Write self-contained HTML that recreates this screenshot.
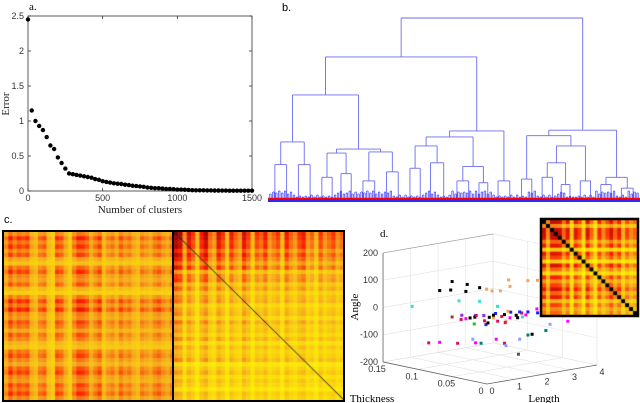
<!DOCTYPE html>
<html><head><meta charset="utf-8"><style>
body{margin:0;width:640px;height:403px;background:#fff;position:relative;overflow:hidden;font-family:"Liberation Sans",sans-serif}
canvas{position:absolute}
svg{position:absolute;left:0;top:0;pointer-events:none}
.serif{font-family:"Liberation Serif",serif}
</style></head><body>
<canvas id="hmL" width="170" height="168" style="left:4px;top:232px"></canvas>
<canvas id="hmR" width="170" height="168" style="left:174px;top:232px"></canvas>
<svg id="s" width="640" height="403"></svg>
<canvas id="hmI" width="95" height="95" style="left:542px;top:220px"></canvas>
<svg id="s2" width="640" height="403"><rect x="541" y="219" width="97" height="97" fill="none" stroke="#000" stroke-width="2.5"/></svg>
<script>
// ---- data ----
const errX = [];for(let i=0;i<=60;i++)errX.push(i*25);
const errY = [2.45,1.15,1.0,0.93,0.87,0.77,0.65,0.6,0.48,0.4,0.32,0.25,0.24,0.23,0.22,0.21,0.2,0.19,0.17,0.16,0.14,0.13,0.12,0.11,0.105,0.1,0.09,0.085,0.075,0.07,0.065,0.06,0.05,0.045,0.04,0.04,0.035,0.03,0.03,0.025,0.02,0.02,0.018,0.015,0.012,0.01,0.01,0.01,0.008,0.008,0.007,0.007,0.006,0.006,0.005,0.005,0.005,0.005,0.005,0.005,0.005];
const yTicksA = [0,0.5,1,1.5,2,2.5];
const xTicksA = [0,500,1000,1500];
const tree = [100,
 [78.5,
  [57.5,[31.5,[19,8,8],[19,8,8]],[27.6,[25.4,[12,8,6],[14,6,8]],[26,[10,8,8],[15,8,8]]]],
  [37.6,[34.3,[29.3,[17,8,6],[20,8,10]],[18,[10,8,8],[9,6,6]]],[10,8,8]]],
 [38,[35,[11,8,6],[29.3,[20,[12,8,6],[8,6,6]],[10,8,6]]],[12,[8,8,6],[6,8,8]]]];
const bush = [3,6,2,8,4,5,2,7];
const rowsL = [0.3,0.55,0.35,0.5,0.3,0.45,0.2,0.1,0.35,0.5,0.3,0.25,0.4,0.15,0.05,0.3,0.55,0.35,0.6,0.3,0.25,0.45,0.35,0.2,0.4,0.3,0.15,0.1,0.35,0.45,0.3,0.2,0.4,0.5,0.3,0.25,0.45,0.35,0.5,0.3];
const colsL = [0.4,0.8,0.5,0.7,0.6,0.7,0.3,0.2,0.5,0.6,0.2,0.1,0.7,0.6,0.3,0.1,0.5,0.8,0.75,0.6,0.3,0.5,0.7,0.2,0.4,0.5,0.3,0.6,0.4,0.5,0.3,0.2,0.5,0.4,0.3,0.5,0.6,0.4,0.3,0.5];
const rowsR = [0.95,0.9,0.8,0.85,0.6,0.8,0.65,0.45,0.7,0.3,0.5,0.55,0.3,0.45,0.25,0.35,0.4,0.2,0.3,0.35,0.2,0.4,0.25,0.3,0.2,0.35,0.15,0.3,0.2,0.25,0.35,0.1,0.2,0.3,0.15,0.25,0.2,0.1,0.25,0.2];
const colsR = [0.9,0.8,0.3,0.7,0.5,0.2,0.6,0.8,0.4,0.3,0.7,0.5,0.2,0.6,0.4,0.3,0.7,0.5,0.2,0.5,0.4,0.6,0.3,0.4,0.5,0.2,0.6,0.4,0.3,0.5,0.6,0.3,0.4,0.2,0.5,0.3,0.4,0.5,0.3,0.4];
const insetF = [0.9,0.4,0.95,0.95,0.9,0.5,0.8,0.2,0.8,0.6,0.2,0.85,0.5,0.2,0.7,0.4,0.6,0.85,0.5,0.75,0.3,0.6,0.4,0.5];
const ptL = [1.0,0.8,1.2,1.5,1.8,2.0, 2.0,2.2,2.5,2.6,3.5,3.6,2.8, 0.3,1.5,2.0,4.0,4.5,2.4,
 1.0,1.2,1.4,1.5,1.6,1.7,1.8,1.9,2.0,2.1,2.2,2.3,2.4,2.5,2.6,2.7,2.8,2.9,3.0,1.3,1.6,1.9,2.2,2.5,2.8,3.1,1.1,1.5,2.0,2.4,2.7,3.2,1.8,2.3,
 0.4,0.8,1.2,1.5,1.8,2.1,2.4,2.7,3.0,1.6,2.2,2.9,3.4,1.9,4.2,3.3];
const ptT = [0.09,0.1,0.1,0.09,0.1,0.09, 0.08,0.08,0.08,0.07,0.08,0.07,0.08, 0.12,0.1,0.09,0.08,0.07,0.08,
 0.09,0.085,0.08,0.09,0.08,0.085,0.075,0.08,0.07,0.08,0.075,0.07,0.07,0.065,0.07,0.065,0.06,0.065,0.06,0.07,0.065,0.06,0.06,0.055,0.055,0.05,0.08,0.075,0.07,0.065,0.06,0.055,0.07,0.065,
 0.1,0.1,0.09,0.08,0.08,0.07,0.07,0.06,0.06,0.08,0.06,0.05,0.05,0.03,0.05,0.04];
const ptA = [110,75,70,65,80,70, 70,60,55,75,75,80,90, 15,25,20,15,10,0,
 -20,-30,-25,-35,-20,-30,-40,-25,-30,-35,-20,-30,-25,-15,-40,-30,-35,-25,-20,-40,-45,-35,-40,-30,-25,-20,-10,-15,-20,-10,-15,-10,-45,-50,
 -110,-115,-120,-105,-125,-110,-130,-115,-105,-120,-130,-95,-90,-140,-70,-60];
const ptC = ['#000','#000','#000','#000','#000','#000','#f4a460','#f4a460','#f4a460','#f4a460','#f4a460','#f4a460','#f4a460','#30e0d0','#30e0d0','#30e0d0','#30e0d0','#30e0d0','#30e0d0',
 '#b03030','#e0104f','#000','#ff00ff','#2020ff','#000','#e0104f','#8a2be2','#f4a460','#000','#2020ff','#e0104f','#000','#2020ff','#ff00ff','#000','#30e0d0','#e0104f','#2020ff','#20c020','#2020ff','#e0104f','#f4a460','#000','#ff00ff','#2020ff','#8a2be2','#e0104f','#000','#f4a460','#2020ff','#ff00ff','#000','#e0104f',
 '#e0104f','#ff00ff','#e0104f','#8da0ff','#008080','#ff00ff','#e0104f','#8da0ff','#008080','#ff00ff','#8da0ff','#000','#008080','#555','#ff00ff','#8da0ff'];
const zTicks = [200,100,0,-100,-200];
const tTicks = [0.15,0.1,0.05,0];
const lTicks = [0,1,2,3,4];

const S=document.getElementById('s');const NS='http://www.w3.org/2000/svg';
function el(t,a,txt){const e=document.createElementNS(NS,t);for(const k in a)e.setAttribute(k,a[k]);if(txt!==undefined)e.textContent=txt;S.appendChild(e);return e;}

// ---- panel a ----
const ax0=28,ax1=252,ay0=16,ay1=191;
const xa=v=>ax0+v/1500*(ax1-ax0), ya=v=>ay1-v/2.5*(ay1-ay0);
let r=el('rect',{x:ax0,y:ay0,width:ax1-ax0,height:ay1-ay0,fill:'none',stroke:'#333','stroke-width':0.8});

yTicksA.forEach(v=>{el('line',{x1:ax0,x2:ax0+3,y1:ya(v),y2:ya(v),stroke:'#333','stroke-width':0.8});el('line',{x1:ax1,x2:ax1-3,y1:ya(v),y2:ya(v),stroke:'#333','stroke-width':0.8});
 const t=el('text',{x:ax0-4,y:ya(v)+3,'text-anchor':'end','font-size':9,fill:'#333'},v);});
xTicksA.forEach(v=>{el('line',{x1:xa(v),x2:xa(v),y1:ay1,y2:ay1-3,stroke:'#333','stroke-width':0.8});el('line',{x1:xa(v),x2:xa(v),y1:ay0,y2:ay0+3,stroke:'#333','stroke-width':0.8});
 const t=el('text',{x:xa(v),y:ay1+10,'text-anchor':'middle','font-size':9,fill:'#333'},v);});
errX.forEach((x,i)=>{const c=el('circle',{cx:xa(x),cy:ya(errY[i]),r:2.2,fill:'#000'});});
let t=el('text',{x:140,y:213,'text-anchor':'middle','font-size':11,class:'serif',fill:'#222'},'Number of clusters');
t=el('text',{x:9,y:104,'text-anchor':'middle','font-size':11,class:'serif',fill:'#222',transform:'rotate(-90 9 104)'},'Error');
t=el('text',{x:29,y:10,'font-size':11,class:'serif'},'a.');

// ---- panel b dendrogram ----
t=el('text',{x:282,y:11,'font-size':11},'b.');
function units(n){return typeof n==='number'?n:units(n[1])+units(n[2]);}
const tot=units(tree), sc=370/tot, dx0=269, base=199, yd=h=>base-h*1.81;
const dcol='#6b6bf0';
function ln(x1,y1,x2,y2,c,w){const l=el('line',{x1,y1,x2,y2,stroke:c||dcol,'stroke-width':w||0.9});}
function lay(n,x){
 if(typeof n==='number'){const w=n*sc;
  for(let k=0;k+1<n;k+=2){const xa1=x+(k+0.5)*sc,xb=x+(k+1.5)*sc,hb=bush[(k+Math.round(x))%bush.length];
   ln(xa1,base,xa1,base-hb,'#3b3bff',0.7);ln(xb,base,xb,base-hb,'#3b3bff',0.7);ln(xa1,base-hb,xb,base-hb,'#3b3bff',0.7);}
  return {x:x+w/2,h:0,w};}
 const l=lay(n[1],x), rr=lay(n[2],x+l.w);
 ln(l.x,yd(l.h),l.x,yd(n[0]));ln(rr.x,yd(rr.h),rr.x,yd(n[0]));ln(l.x,yd(n[0]),rr.x,yd(n[0]));
 return {x:(l.x+rr.x)/2,h:n[0],w:l.w+rr.w};}
lay(tree,dx0);
r=el('rect',{x:268,y:199,width:372,height:3,fill:'#2a2aff'});
r=el('line',{x1:268,x2:640,y1:198.5,y2:198.5,stroke:'#ff0000','stroke-width':1.4});

// ---- panel c ----
t=el('text',{x:4,y:223,'font-size':11},'c.');
r=el('rect',{x:3,y:231,width:341,height:170,fill:'none',stroke:'#000','stroke-width':2});
r=el('line',{x1:173,x2:173,y1:231,y2:401,stroke:'#000','stroke-width':2});
function cmap(v){v=Math.max(0,Math.min(1,v));const st=[[0,0,0,0],[0.35,150,0,0],[0.6,255,30,0],[0.82,245,170,30],[1,255,255,0]];
 for(let i=1;i<st.length;i++)if(v<=st[i][0]){const a=st[i-1],b=st[i],f=(v-a[0])/(b[0]-a[0]);return `rgb(${a[1]+f*(b[1]-a[1])|0},${a[2]+f*(b[2]-a[2])|0},${a[3]+f*(b[3]-a[3])|0})`;}return '#ff0';}
function heat(id,rows,cols,k,off,diag){const c=document.getElementById(id).getContext('2d');const W=c.canvas.width,H=c.canvas.height;
 const cw=W/cols.length,ch=H/rows.length;
 rows.forEach((rv,i)=>cols.forEach((cv,j)=>{c.fillStyle=cmap(1-off-rv*cv*k);c.fillRect(j*cw,i*ch,cw+0.5,ch+0.5);}));
 if(diag){c.strokeStyle='#222';c.lineWidth=1;c.beginPath();c.moveTo(0,0);c.lineTo(W,H);c.stroke();}}
heat('hmL',rowsL,colsL,0.8,0.08,false);
heat('hmR',rowsR,colsR,0.75,0.02,true);
(function(){const c=document.getElementById('hmI').getContext('2d');const n=insetF.length,cw=95/n;
 insetF.forEach((a,i)=>insetF.forEach((b,j)=>{c.fillStyle=cmap(i===j?0:1-a*b*0.62);c.fillRect(j*cw,i*cw,cw+0.5,cw+0.5);}));})();

// ---- panel d 3D scatter ----
const P=(L,T,A)=>[487+27.5*L-693*T, 384-4.75*L-147*T-(A+200)*0.2725];
function pl(a,b,c,w){const p=P(...a),q=P(...b);const l=el('line',{x1:p[0],y1:p[1],x2:q[0],y2:q[1],stroke:c,'stroke-width':w||0.6});}
zTicks.forEach(z=>{pl([0,0.15,z],[4,0.15,z],'#e2e2e2');pl([4,0.15,z],[4,0,z],'#e2e2e2');});
lTicks.forEach(L=>{pl([L,0.15,-200],[L,0.15,200],'#e2e2e2');pl([L,0,-200],[L,0.15,-200],'#e2e2e2');});
tTicks.forEach(T=>{pl([4,T,-200],[4,T,200],'#e2e2e2');pl([0,T,-200],[4,T,-200],'#e2e2e2');});
pl([0,0.15,-200],[0,0.15,200],'#666',0.8);pl([0,0.15,-200],[0,0,-200],'#666',0.8);pl([0,0,-200],[4,0,-200],'#666',0.8);
pl([0,0.15,200],[4,0.15,200],'#999',0.6);
zTicks.forEach(z=>{const p=P(0,0.15,z);const tx=el('text',{x:p[0]-5,y:p[1]+3,'text-anchor':'end','font-size':9,fill:'#333'},z);});
tTicks.forEach(T=>{const p=P(0,T,-200);const tx=el('text',{x:p[0]-6,y:p[1]+10,'text-anchor':'middle','font-size':9,fill:'#333'},T);});
lTicks.forEach(L=>{const p=P(L,0,-200);const tx=el('text',{x:p[0]+5,y:p[1]+10,'text-anchor':'middle','font-size':9,fill:'#333'},L);});
ptL.forEach((L,i)=>{const p=P(L,ptT[i],ptA[i]);const c=el('rect',{x:p[0]-1.5,y:p[1]-1.5,width:3,height:3,fill:ptC[i]});});
t=el('text',{x:380,y:237,'font-size':11,class:'serif'},'d.');
t=el('text',{x:358,y:307,'text-anchor':'middle','font-size':11,class:'serif',transform:'rotate(-90 358 307)'},'Angle');
t=el('text',{x:372,y:402,'text-anchor':'middle','font-size':11,class:'serif'},'Thickness');
t=el('text',{x:544,y:402,'text-anchor':'middle','font-size':11,class:'serif'},'Length');
</script>
</body></html>
